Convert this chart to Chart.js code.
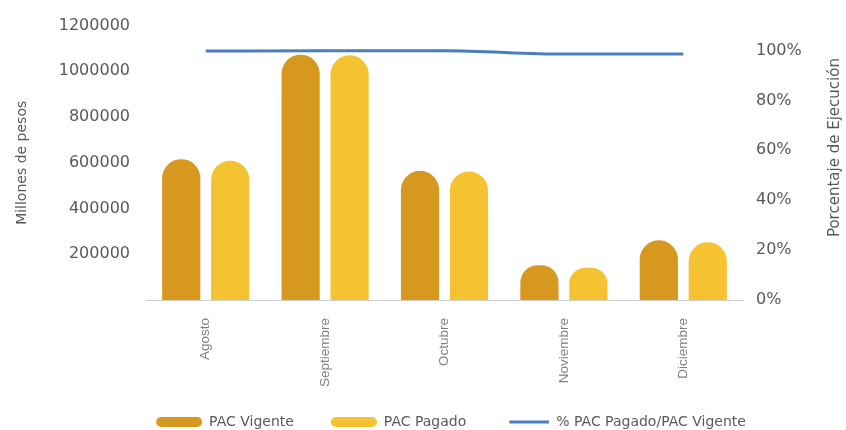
<!DOCTYPE html>
<html><head><meta charset="utf-8">
<script src="https://cdn.jsdelivr.net/npm/chart.js@4"></script>
<style>html,body{margin:0;padding:0;background:#fff}#wrap{width:846px;height:430px}</style>
</head><body><div id="wrap"><canvas id="c" width="846" height="430"></canvas></div>
<script>
const categories = ['Agosto', 'Septiembre', 'Octubre', 'Noviembre', 'Diciembre'];
const pacVigente = [616000, 1073000, 565000, 152000, 261000];
const pacPagado = [609000, 1070000, 562000, 141000, 253000];
const pctPagadoVigente = [0.998, 0.999, 0.999, 0.986, 0.986];
const seriesNames = ['PAC Vigente', 'PAC Pagado', '% PAC Pagado/PAC Vigente'];
const leftTitle = 'Millones de pesos';
const rightTitle = 'Porcentaje de Ejecución';

const colVig = '#D6981F', colPag = '#F5C332', colLine = '#4A7DC1';
const grey = '#595959';

// legend swatches: box 56 wide, mark drawn flush right
function swatch(color, w, h, markW, line) {
  const c = document.createElement('canvas');
  c.width = w; c.height = h;
  const x = c.getContext('2d');
  x.fillStyle = color;
  const x0 = w - markW;
  if (line) { x.fillRect(x0, (h - 3) / 2, markW, 3); return c; }
  const r = h / 2;
  x.beginPath();
  x.moveTo(x0 + r, 0); x.lineTo(w - r, 0); x.arc(w - r, r, r, -Math.PI/2, Math.PI/2);
  x.lineTo(x0 + r, h); x.arc(x0 + r, r, r, Math.PI/2, Math.PI*1.5); x.closePath(); x.fill();
  return c;
}
const swatches = [swatch(colVig, 56, 10, 46), swatch(colPag, 56, 10, 46), swatch(colLine, 56, 10, 40, true)];

const extras = {
  id: 'extras',
  afterLayout(chart) { chart.legend.left += 23; chart.legend.right += 23; },
  afterDraw(chart) {
    const ctx = chart.ctx, a = chart.chartArea;
    ctx.save();
    ctx.translate(chart.width - 11, a.top + 122);
    ctx.rotate(-Math.PI / 2);
    ctx.font = '15px "DejaVu Sans"';
    ctx.fillStyle = grey;
    ctx.textAlign = 'center'; ctx.textBaseline = 'middle';
    ctx.fillText(rightTitle, 0, 0);
    ctx.restore();
  }
};

new Chart(document.getElementById('c'), {
  data: {
    labels: categories,
    datasets: [
      { type: 'bar', label: seriesNames[0], data: pacVigente, backgroundColor: colVig, yAxisID: 'y', order: 1,
        borderRadius: 100, borderSkipped: 'bottom', categoryPercentage: 0.82, barPercentage: 0.78 },
      { type: 'bar', label: seriesNames[1], data: pacPagado, backgroundColor: colPag, yAxisID: 'y', order: 1,
        borderRadius: 100, borderSkipped: 'bottom', categoryPercentage: 0.82, barPercentage: 0.78 },
      { type: 'line', label: seriesNames[2], data: pctPagadoVigente, borderColor: colLine, backgroundColor: colLine,
        borderWidth: 3, pointRadius: 0, cubicInterpolationMode: 'monotone', yAxisID: 'y1', order: 0 }
    ]
  },
  options: {
    responsive: false, animation: false, devicePixelRatio: 1,
    layout: { padding: { top: 24, left: 0, right: 0, bottom: 0 } },
    plugins: {
      tooltip: { enabled: false },
      legend: {
        position: 'bottom', maxHeight: 42,
        labels: {
          usePointStyle: true, pointStyleWidth: 56, padding: 27,
          font: { family: 'DejaVu Sans', size: 14 }, color: grey,
          sort: (a, b) => a.datasetIndex - b.datasetIndex,
          generateLabels(chart) {
            const items = Chart.defaults.plugins.legend.labels.generateLabels(chart);
            items.forEach(it => { it.pointStyle = swatches[it.datasetIndex]; });
            return items;
          }
        }
      }
    },
    scales: {
      x: {
        grid: { display: false, drawTicks: false },
        border: { display: true, color: '#cfcfcf', width: 1 },
        ticks: { minRotation: 90, maxRotation: 90, padding: 18, color: '#7f7f7f', font: { family: 'Liberation Sans', size: 13.5 } },
        afterFit(s) { s.height = 88; }
      },
      y: {
        position: 'left', min: 0, max: 1200000,
        grid: { display: false, drawTicks: false }, border: { display: false },
        ticks: { stepSize: 200000, padding: 16, color: grey, font: { family: 'DejaVu Sans', size: 16 },
          callback: v => v === 0 ? '' : String(v) },
        title: { display: true, text: leftTitle, color: grey, font: { family: 'DejaVu Sans', size: 14 }, padding: { top: 14, bottom: 0 } },
        afterFit(s) { s.width = 146; }
      },
      y1: {
        position: 'right', min: 0, max: 1.1,
        grid: { display: false, drawTicks: false }, border: { display: false },
        ticks: { stepSize: 0.2, includeBounds: false, padding: 13, color: grey, font: { family: 'DejaVu Sans', size: 16 },
          callback: v => Math.round(v * 100) + '%' },
        afterFit(s) { s.width = 103; }
      }
    }
  },
  plugins: [extras]
});
</script>
</body></html>
